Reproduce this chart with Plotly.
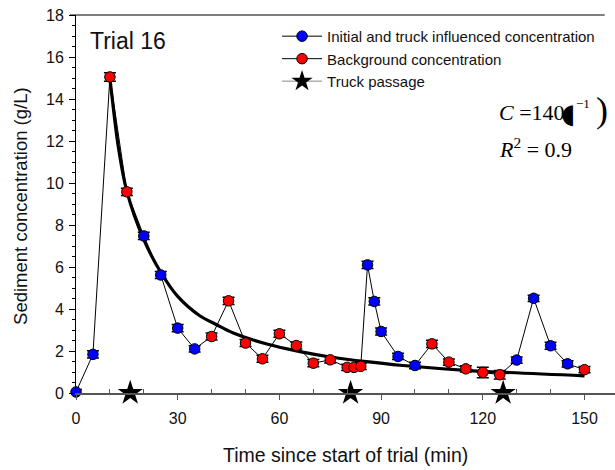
import plotly.graph_objects as go

# ---- data ----
time_min = [0, 5, 10, 15, 20, 25, 30, 35, 40, 45, 50, 55, 60, 65, 70, 75, 80, 82, 84,
            86, 88, 90, 95, 100, 105, 110, 115, 120, 125, 130, 135, 140, 145, 150]
conc = [0.05, 1.84, 15.05, 9.58, 7.48, 5.62, 3.09, 2.10, 2.69, 4.39, 2.38, 1.63, 2.82,
        2.26, 1.42, 1.58, 1.22, 1.22, 1.27, 6.10, 4.36, 2.93, 1.74, 1.31, 2.34, 1.47,
        1.15, 0.98, 0.87, 1.57, 4.51, 2.25, 1.39, 1.11]
conc_err = [0.12, 0.17, 0.2, 0.17, 0.17, 0.17, 0.17, 0.15, 0.17, 0.17, 0.17, 0.17, 0.17,
            0.17, 0.17, 0.15, 0.15, 0.15, 0.15, 0.17, 0.17, 0.17, 0.15, 0.15, 0.17, 0.15,
            0.15, 0.25, 0.2, 0.15, 0.15, 0.17, 0.15, 0.15]
# B = initial / truck influenced, R = background
kind = ["B", "B", "R", "R", "B", "B", "B", "B", "R", "R", "R", "R", "R", "R", "R", "R",
        "R", "R", "R", "B", "B", "B", "B", "B", "R", "R", "R", "R", "R", "B", "B", "B",
        "B", "R"]

truck_time = [16, 81, 126]
truck_y = [0, 0, 0]

fit_time = [10, 12.5, 15, 20, 25, 30, 36.5, 41.5, 46.4, 56.3, 66.1, 75.9, 85.7, 95.6, 116, 150]
fit_conc = [15.0, 11.7, 9.6, 7.3, 5.75, 4.6, 3.68, 3.25, 2.86, 2.33, 1.97, 1.69, 1.49, 1.32, 1.07, 0.82]

legend_names = ["Initial and truck influenced concentration", "Background concentration",
                "Truck passage"]

BLUE = "#0000FF"
RED = "#FF0000"

bx = [t for t, k in zip(time_min, kind) if k == "B"]
by = [c for c, k in zip(conc, kind) if k == "B"]
be = [e for e, k in zip(conc_err, kind) if k == "B"]
rx = [t for t, k in zip(time_min, kind) if k == "R"]
ry = [c for c, k in zip(conc, kind) if k == "R"]
re_ = [e for e, k in zip(conc_err, kind) if k == "R"]

fig = go.Figure()

# connecting line through all samples
fig.add_trace(go.Scatter(x=time_min, y=conc, mode="lines",
                         line=dict(color="black", width=1), showlegend=False,
                         hoverinfo="skip"))
# fitted curve
fig.add_trace(go.Scatter(x=fit_time, y=fit_conc, mode="lines",
                         line=dict(color="black", width=3.2, shape="spline", smoothing=0.8),
                         showlegend=False, hoverinfo="skip"))

marker_common = dict(size=10.5, line=dict(color="black", width=1))
err_common = dict(type="data", color="black", thickness=1.5, width=6, visible=True)

fig.add_trace(go.Scatter(x=bx, y=by, mode="markers",
                         marker=dict(color=BLUE, **marker_common),
                         error_y=dict(array=be, **err_common),
                         showlegend=False, cliponaxis=False))
fig.add_trace(go.Scatter(x=rx, y=ry, mode="markers",
                         marker=dict(color=RED, **marker_common),
                         error_y=dict(array=re_, **err_common),
                         showlegend=False, cliponaxis=False))
fig.add_trace(go.Scatter(x=truck_time, y=truck_y, mode="markers",
                         marker=dict(symbol="star", color="black", size=19,
                                     line=dict(width=0)),
                         showlegend=False, cliponaxis=False))

# legend entries
fig.add_trace(go.Scatter(x=[None], y=[None], mode="lines+markers", name=legend_names[0],
                         line=dict(color="black", width=1),
                         marker=dict(color=BLUE, **marker_common)))
fig.add_trace(go.Scatter(x=[None], y=[None], mode="lines+markers", name=legend_names[1],
                         line=dict(color="black", width=1),
                         marker=dict(color=RED, **marker_common)))
fig.add_trace(go.Scatter(x=[None], y=[None], mode="lines+markers", name=legend_names[2],
                         line=dict(color="#888888", width=1),
                         marker=dict(symbol="star", color="black", size=16,
                                     line=dict(width=0))))

FONT = "Liberation Sans, Arial, sans-serif"
SERIF = "Liberation Serif, Times New Roman, serif"

fig.update_layout(
    width=615, height=470,
    margin=dict(l=76, r=0, t=15, b=77),
    paper_bgcolor="white", plot_bgcolor="white",
    font=dict(family=FONT, size=16, color="#111111"),
    showlegend=True,
    legend=dict(x=0.373, y=0.987, xanchor="left", yanchor="top",
                bgcolor="rgba(0,0,0,0)", font=dict(family=FONT, size=15, color="#111111"),
                tracegroupgap=0, itemwidth=40),
    xaxis=dict(range=[0, 159], showgrid=False, zeroline=False,
               showline=True, linecolor="#555555", linewidth=1.5,
               tickmode="array", tickvals=[0, 30, 60, 90, 120, 150],
               ticks="outside", ticklen=5, tickwidth=1, tickcolor="#555555",
               ticklabelstandoff=5,
               tickfont=dict(family=FONT, size=16, color="#111111"),
               minor=dict(tickmode="array", tickvals=[10, 20, 40, 50, 70, 80, 100, 110, 130, 140],
                          ticks="inside", ticklen=4, tickwidth=1, tickcolor="#555555",
                          showgrid=False)),
    yaxis=dict(range=[0, 18], showgrid=False, zeroline=False,
               showline=True, linecolor="black", linewidth=1,
               dtick=2, tick0=0,
               ticks="outside", ticklen=6, tickwidth=1, tickcolor="black",
               ticklabelstandoff=2,
               tickfont=dict(family=FONT, size=16, color="#111111"),
               minor=dict(dtick=0.5, ticks="outside", ticklen=3, tickwidth=1,
                          tickcolor="black", showgrid=False)),
    shapes=[dict(type="line", xref="paper", yref="paper", x0=-0.011, x1=0.981, y0=1, y1=1,
                 line=dict(color="black", width=1))],
    annotations=[
        dict(text="Time since start of trial (min)", xref="paper", yref="paper",
             x=0.5, y=-0.163, xanchor="center", yanchor="middle", showarrow=False,
             font=dict(family=FONT, size=19.5, color="#111111")),
        dict(text="Sediment concentration (g/L)", xref="paper", yref="paper",
             x=-0.102, y=0.495, xanchor="center", yanchor="middle", showarrow=False,
             textangle=-90, font=dict(family=FONT, size=18.5, color="#111111")),
        dict(text="Trial 16", xref="paper", yref="paper", x=0.0223, y=0.931,
             xanchor="left", yanchor="middle", showarrow=False,
             font=dict(family=FONT, size=23, color="#111111")),
        dict(text="<i>C</i> =140", xref="paper", yref="paper", x=0.781, y=0.741,
             xanchor="left", yanchor="middle", showarrow=False,
             font=dict(family=SERIF, size=22, color="black")),
        dict(text="◖", xref="paper", yref="paper", x=(559 - 76) / 539, y=(393.3 - 114) / 378.3,
             xanchor="left", yanchor="middle", showarrow=False,
             font=dict(family="DejaVu Sans", size=27, color="black")),
        dict(text="−1", xref="paper", yref="paper", x=(574 - 76) / 539, y=(393.3 - 104) / 378.3,
             xanchor="left", yanchor="middle", showarrow=False,
             font=dict(family=SERIF, size=13, color="black")),
        dict(text=")", xref="paper", yref="paper", x=(594 - 76) / 539, y=(393.3 - 110) / 378.3,
             xanchor="left", yanchor="middle", showarrow=False,
             font=dict(family=SERIF, size=36, color="black")),
        dict(text="<i>R</i><sup>2</sup> = 0.9", xref="paper", yref="paper", x=0.781, y=0.648,
             xanchor="left", yanchor="middle", showarrow=False,
             font=dict(family=SERIF, size=22, color="black")),
    ],
)

fig.write_html("out.html")
